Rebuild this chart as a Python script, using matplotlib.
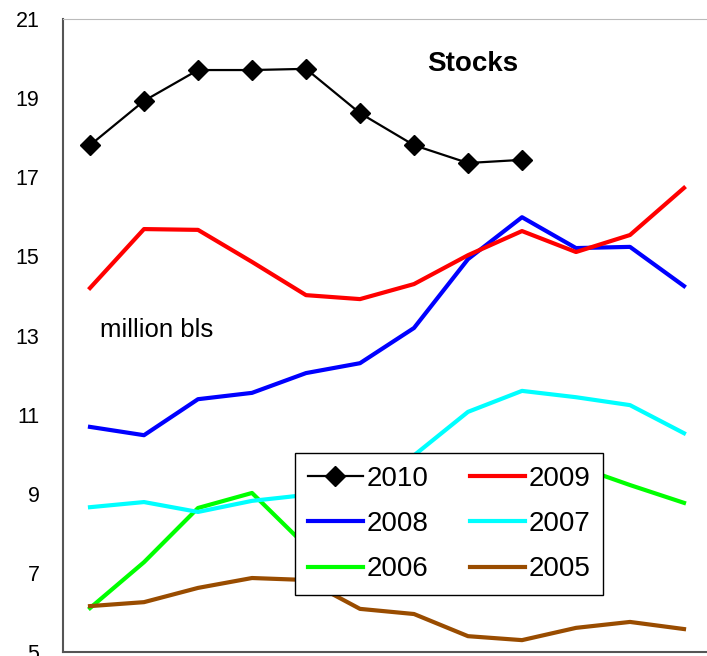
import numpy as np
import matplotlib.pyplot as plt

plt.rcParams['font.family'] = ['Liberation Sans', 'DejaVu Sans']

months = np.arange(12)

# million barrels
stocks_2010 = [17.81, 18.93, 19.71, 19.71, 19.74, 18.62, 17.81, 17.36, 17.44]
stocks_2009 = [14.20, 15.69, 15.67, 14.86, 14.02, 13.92, 14.30, 15.03, 15.64, 15.11, 15.54, 16.73]
stocks_2008 = [10.69, 10.48, 11.39, 11.55, 12.05, 12.30, 13.19, 14.93, 15.99, 15.21, 15.24, 14.25]
stocks_2007 = [8.66, 8.79, 8.54, 8.82, 8.97, 9.20, 9.97, 11.07, 11.60, 11.44, 11.24, 10.53]
stocks_2006 = [6.11, 7.27, 8.64, 9.02, 7.68, 6.74, 7.60, 8.60, 9.30, 9.70, 9.22, 8.77]
stocks_2005 = [6.16, 6.26, 6.62, 6.87, 6.82, 6.09, 5.96, 5.40, 5.30, 5.61, 5.76, 5.58]

yticks = [5, 7, 9, 11, 13, 15, 17, 19, 21]

fig = plt.figure(figsize=(7.07, 6.56), dpi=100)
ax = fig.add_axes([63 / 707, 4 / 656, 648 / 707, 633 / 656])

l10, = ax.plot(months[:len(stocks_2010)], stocks_2010, color='black', lw=1.6,
               marker='D', ms=10, label='2010', zorder=6)
l09, = ax.plot(months, stocks_2009, color='#ff0000', lw=3, label='2009', zorder=5)
l08, = ax.plot(months, stocks_2008, color='#0000ff', lw=3, label='2008', zorder=4)
l07, = ax.plot(months, stocks_2007, color='#00ffff', lw=3, label='2007', zorder=3)
l06, = ax.plot(months, stocks_2006, color='#00ff00', lw=3, label='2006', zorder=2)
l05, = ax.plot(months, stocks_2005, color='#994c00', lw=3, label='2005', zorder=2)

ax.set_xlim(-0.5, 11.5)
ax.set_ylim(5, 21)
ax.set_yticks(yticks)
ax.set_xticks([])
ax.tick_params(axis='y', length=0, pad=17, labelsize=15.5)

for side in ['left', 'bottom']:
    ax.spines[side].set_color('#555555')
    ax.spines[side].set_linewidth(1.5)
ax.spines['top'].set_color('#bbbbbb')
ax.spines['right'].set_visible(False)

ax.text(0.633, 0.929, 'Stocks', transform=ax.transAxes, ha='center', va='center',
        fontsize=20, fontweight='bold')
ax.text(0.145, 0.508, 'million bls', transform=ax.transAxes, ha='center', va='center',
        fontsize=18.5)

# column-first order so rows read 2010/2009, 2008/2007, 2006/2005
leg = ax.legend(handles=[l10, l08, l06, l09, l07, l05], ncol=2, fontsize=20,
                loc='upper left', bbox_to_anchor=((295 - 63) / 648, (652 - 453) / 633),
                frameon=True, fancybox=False, edgecolor='black', framealpha=1,
                borderpad=0.45, labelspacing=0.7, handlelength=2.0, handletextpad=0.12,
                columnspacing=1.5, borderaxespad=0)
leg.get_frame().set_linewidth(1.0)
leg.set_zorder(10)

fig.savefig('out.png', dpi=100)
